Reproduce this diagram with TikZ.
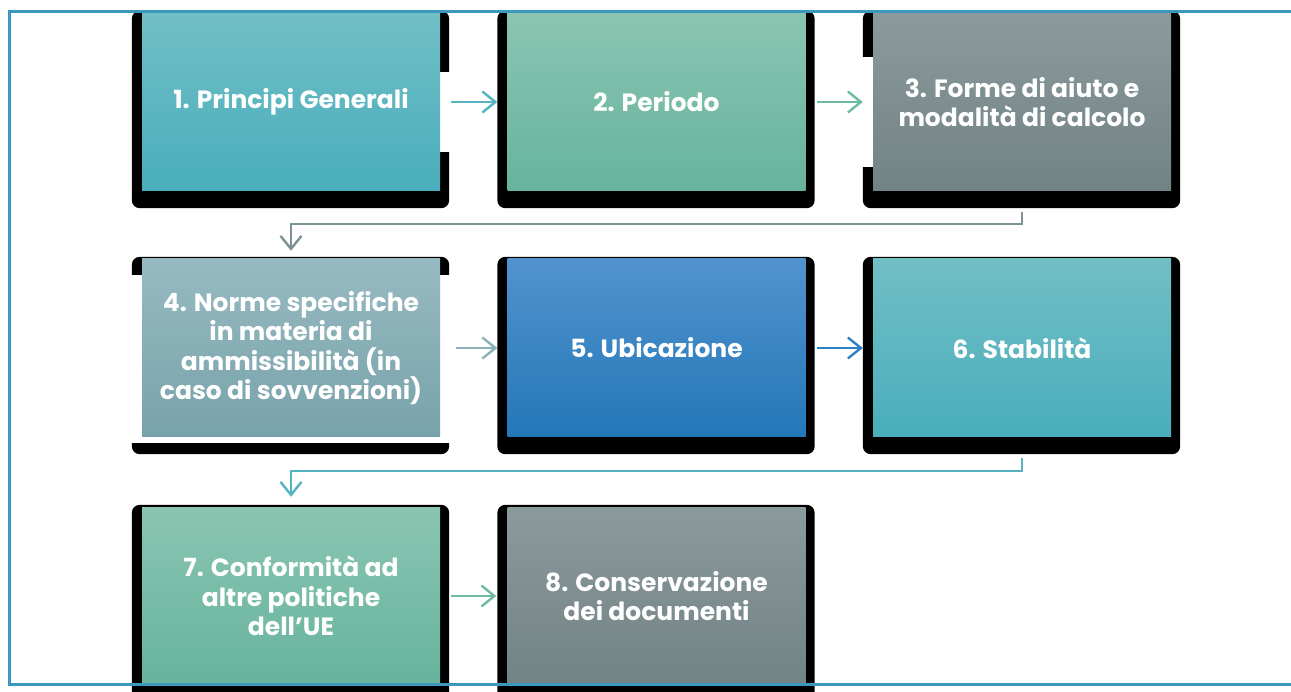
\documentclass[tikz,border=0pt]{standalone}
\usepackage{fontspec}
\setmainfont{Poppins}
\usetikzlibrary{arrows.meta,calc}
\definecolor{frameblue}{HTML}{3C98BE}
\definecolor{tealT}{HTML}{70BFC5}\definecolor{tealB}{HTML}{4AADBB}
\definecolor{greenT}{HTML}{8AC5B2}\definecolor{greenB}{HTML}{67B39D}
\definecolor{grayT}{HTML}{8B9A9C}\definecolor{grayB}{HTML}{728385}
\definecolor{slateT}{HTML}{97BAC1}\definecolor{slateB}{HTML}{78A2AA}
\definecolor{blueT}{HTML}{5193CE}\definecolor{blueB}{HTML}{2477B8}
\definecolor{aTeal}{HTML}{55B4C0}\definecolor{aGreen}{HTML}{6EBBA0}
\definecolor{aGray}{HTML}{7D9294}\definecolor{aSlate}{HTML}{8AB0B8}
\definecolor{aBlue}{HTML}{2E80C4}
\pgfdeclarelayer{bg}
\pgfsetlayers{bg,main}
\begin{document}
\begin{tikzpicture}[x=1pt,y=-1pt,
  box/.style={minimum width=298pt,minimum height=178pt,inner sep=0pt,
    text=white,align=center,font=\bfseries\fontsize{25}{29.5}\selectfont},
  conn/.style={line width=2.4pt,-{Straight Barb[length=13pt,width=21pt]}},
  shadowbox/.style={fill=black,rounded corners=8pt},
  gap/.style={fill=white}
]
\useasboundingbox (0,0) rectangle (1291,692);
\clip (0,0) rectangle (1291,692);

\node[box,top color=tealT,bottom color=tealB] (b1) at (291,102) {1. Principi Generali};
\node[box,top color=greenT,bottom color=greenB] (b2) at (656.5,102) {2. Periodo};
\node[box,top color=grayT,bottom color=grayB] (b3) at (1022,102) {3. Forme di aiuto e\\modalità di calcolo};
\node[box,top color=slateT,bottom color=slateB] (b4) at (291,348) {4. Norme specifiche\\in materia di\\ammissibilità (in\\caso di sovvenzioni)};
\node[box,top color=blueT,bottom color=blueB] (b5) at (656.5,348) {5. Ubicazione};
\node[box,top color=tealT,bottom color=tealB] (b6) at (1022,348) {6. Stabilità};
\node[box,top color=greenT,bottom color=greenB] (b7) at (291,596) {7. Conformità ad\\altre politiche\\dell’UE};
\node[box,top color=grayT,bottom color=grayB] (b8) at (656.5,596) {8. Conservazione\\dei documenti};

\begin{pgfonlayer}{bg}
  \foreach \n in {b1,b2,b3,b4,b5,b6,b7,b8}
    \path[shadowbox] ($(\n.north west)+(-10,-2)$) rectangle ($(\n.south east)+(9,17)$);
  \path[gap] ($(b1.north east)+(0,59)$) rectangle ($(b1.north east)+(10,139)$);
  \path[gap] ($(b3.north west)+(-11,44)$) rectangle ($(b3.north west)+(0,154)$);
  \path[gap] ($(b4.north west)+(-11,16)$) rectangle ($(b4.south east)+(10,6)$);
\end{pgfonlayer}

\draw[conn,aTeal,shorten <=11pt,shorten >=10pt] (b1.east) -- (b2.west);
\draw[conn,aGreen,shorten <=11pt,shorten >=10pt] (b2.east) -- (b3.west);
\draw[conn,aGray,shorten <=21pt,shorten >=8pt] (b3.south) -- ++(0,33) -| (b4.north);
\draw[conn,aSlate,shorten <=16pt,shorten >=10pt] (b4.east) -- (b5.west);
\draw[conn,aBlue,shorten <=11pt,shorten >=10pt] (b5.east) -- (b6.west);
\draw[conn,aTeal,shorten <=21pt,shorten >=10pt] (b6.south) -- ++(0,34) -| (b7.north);
\draw[conn,aGreen,shorten <=11pt,shorten >=11pt] (b7.east) -- (b8.west);

\coordinate (ftr) at (1300,12);
\coordinate (ftl) at (9,12);
\coordinate (fbl) at (9,684);
\coordinate (fbr) at (1300,684);
\draw[frameblue,line width=3pt] (ftr) -- (ftl) -- (fbl) -- (fbr);
\end{tikzpicture}
\end{document}
